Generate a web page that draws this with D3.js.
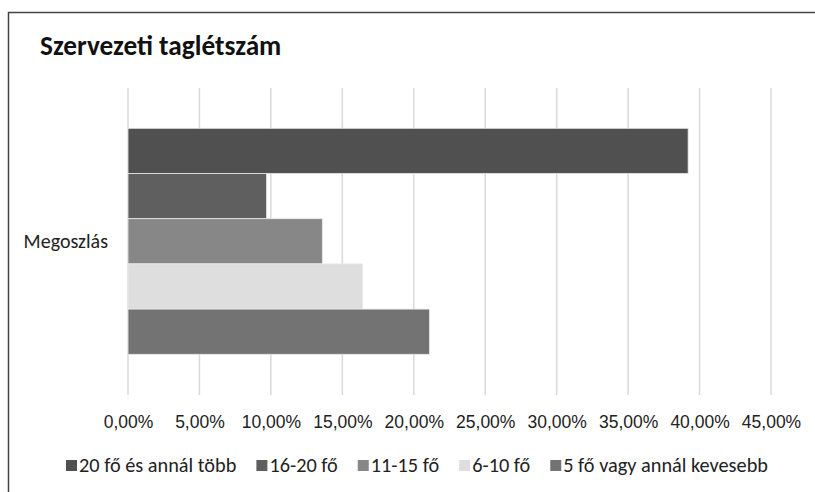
<!DOCTYPE html>
<html><head><meta charset="utf-8">
<script src="https://cdn.jsdelivr.net/npm/d3@7"></script>
<style>
body{margin:0;background:#fff;}
svg{display:block;font-family:Carlito,Calibri,Lato,"Liberation Sans",sans-serif;}
</style></head><body>
<svg id="c" width="815" height="492"></svg>
<script>
const title = "Szervezeti taglétszám";
const category = "Megoszlás";
const seriesNames = ["20 fő és annál több","16-20 fő","11-15 fő","6-10 fő","5 fő vagy annál kevesebb"];
const seriesValues = [0.392, 0.097, 0.136, 0.164, 0.211];
const seriesColors = ["#505050","#5f5f5f","#878787","#dedede","#737373"];
const tickValues = [0,0.05,0.10,0.15,0.20,0.25,0.30,0.35,0.40,0.45];

const svg = d3.select("#c");
svg.append("rect").attr("x",8.5).attr("y",12.5).attr("width",830).attr("height",500)
  .attr("fill","#fff").attr("stroke","#444").attr("stroke-width",1.5);

svg.append("text").attr("x",40).attr("y",55).attr("font-size",27.3).attr("font-weight","bold")
  .attr("fill","#111").text(title);

const x = d3.scaleLinear().domain([0,0.45]).range([128,771]);
const plotTop = 88, plotBottom = 395;
const y = d3.scaleBand().domain(seriesNames).range([128.3,354.3]).padding(0);

// gridlines
svg.append("g").selectAll("line").data(tickValues).join("line")
  .attr("x1",d=>x(d)).attr("x2",d=>x(d)).attr("y1",plotTop).attr("y2",plotBottom)
  .attr("stroke","#d9d9d9").attr("stroke-width",1.5);

// axis labels
const fmt = d => (d*100).toFixed(2).replace(".",",")+"%";
const ax = svg.append("g").attr("transform",`translate(0,${plotBottom})`)
  .call(d3.axisBottom(x).tickValues(tickValues).tickFormat(fmt).tickSize(0).tickPadding(21));
ax.select(".domain").remove();
ax.selectAll("text").attr("font-size",17.5).attr("fill","#222").attr("font-family",null);

// bars
svg.append("g").selectAll("rect").data(seriesNames).join("rect")
  .attr("x",x(0)).attr("y",d=>y(d)).attr("height",y.bandwidth())
  .attr("width",(d,i)=>x(seriesValues[i])-x(0))
  .attr("fill",(d,i)=>seriesColors[i]).attr("stroke","#e8e8e8").attr("stroke-width",0.8);

// category label
svg.append("text").attr("x",108).attr("y",248).attr("text-anchor","end")
  .attr("font-size",20).attr("fill","#222").text(category);

// legend
const lg = svg.append("g");
let lx = 66;
seriesNames.forEach((n,i)=>{
  lg.append("rect").attr("x",lx).attr("y",460).attr("width",11).attr("height",11).attr("fill",seriesColors[i]);
  const t = lg.append("text").attr("x",lx+13).attr("y",472).attr("font-size",20.3).attr("fill","#222").text(n);
  lx += 13 + t.node().getComputedTextLength() + 20;
});
</script>
</body></html>
